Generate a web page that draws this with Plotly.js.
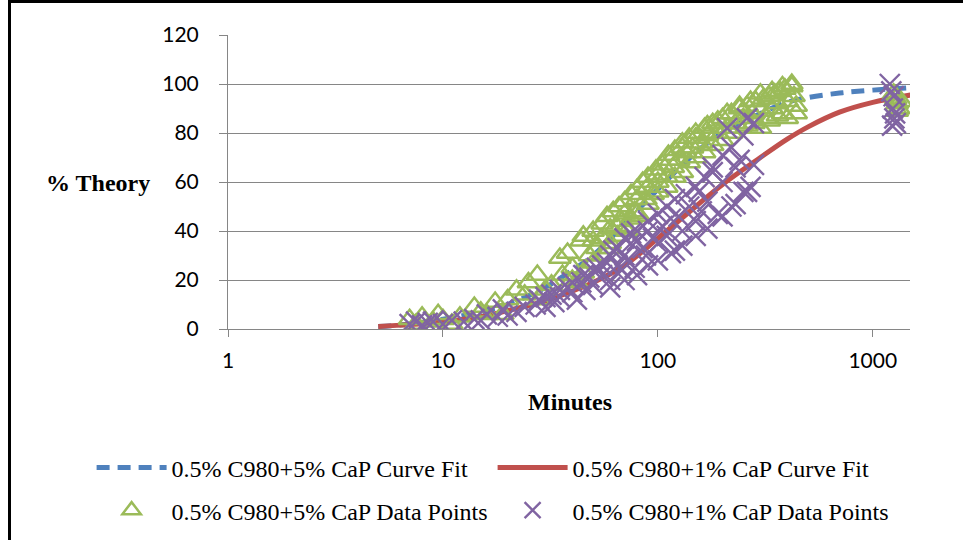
<!DOCTYPE html>
<html>
<head>
<meta charset="utf-8">
<script src="https://cdn.plot.ly/plotly-3.0.1.min.js"></script>
<style>
html,body{margin:0;padding:0;background:#fff;overflow:hidden;}
#chart{width:963px;height:540px;}
#frame{position:absolute;left:8px;top:0px;width:2000px;height:2000px;border-left:3px solid #000;border-top:3px solid #000;pointer-events:none;}
</style>
</head>
<body>
<div id="chart"></div>
<div id="frame"></div>
<script>
// Curve fits
const fitX = [5, 7, 10, 15, 20, 30, 40, 50, 70, 100, 150, 200, 300, 400, 500, 700, 1000, 1500];
const fit5 = [1, 2, 4, 7, 10, 17, 24, 30, 43, 57, 72, 80, 88, 92.5, 94.5, 96.3, 97.5, 98.5];
const fit1 = [1, 1.8, 3, 5, 7.5, 11.5, 15.5, 19, 26, 37, 50, 59, 70, 77.5, 82.5, 88.5, 92.5, 95.5];

// 0.5% C980+5% CaP data points
const pts5X = [7, 7.5, 8, 9, 9.5, 10, 11, 12,
  14, 15, 16, 17.5, 19, 20, 22, 24, 25, 27.5,
  28, 30, 32, 35, 36, 38, 40, 42, 44, 45,
  48, 50, 52, 55, 55, 58, 60, 62, 64, 66,
  68, 70, 72, 75, 78, 80, 82, 85, 88, 90,
  95, 98, 100, 105, 110, 112, 118, 120, 125, 130,
  135, 140, 145, 150, 160, 165, 170, 180, 190, 200,
  210, 220, 230, 240, 250, 260, 275, 285, 300, 310,
  320, 330, 340, 350, 360, 370, 380, 390, 400, 420, 430, 440,
  40, 45, 50, 55, 60, 65, 70, 75, 80, 90, 100, 110, 120, 130,
  140, 150, 165, 180, 200, 220, 240, 260, 280, 300, 330, 360, 400, 440,
  50, 60, 70, 80, 90, 100, 115, 130, 150, 170, 190, 210, 240, 270, 300, 340, 380, 420,
  1250, 1280, 1300, 1320, 1350, 1300];
const pts5Y = [4, 2, 5, 3, 6, 4, 2, 5,
  9, 7, 6, 11, 6, 12, 16, 14, 19, 22,
  12, 16, 18, 29, 22, 31, 25, 19, 36, 38,
  30, 40, 33, 43, 37, 46, 35, 48, 42, 50,
  44, 52, 40, 55, 48, 57, 46, 60, 53, 62,
  55, 65, 60, 67, 62, 71, 66, 73, 69, 76,
  72, 78, 74, 80, 76, 82, 79, 84, 80, 86,
  82, 88, 84, 90, 86, 91, 88, 93, 89, 94,
  86, 95, 90, 96, 92, 97, 88, 98, 93, 99, 95, 91,
  20, 23, 27, 30, 33, 38, 41, 45, 47, 51, 56, 58, 62, 64,
  68, 70, 72, 75, 77, 80, 82, 83, 84, 82, 85, 87, 86, 88,
  36, 41, 47, 53, 58, 63, 69, 74, 78, 83, 85, 88, 91, 93, 96, 97, 99, 100,
  96, 94, 92, 90, 93, 89];

// 0.5% C980+1% CaP data points
const pts1X = [7, 7.5, 8, 8.5, 9, 10, 11, 12.5,
  14, 15, 16, 18, 19, 20, 22, 24,
  27, 28, 30, 32, 33, 35, 38, 40, 42, 44,
  46, 48, 50, 52, 55, 58, 60, 62, 65, 68,
  70, 72, 75, 78, 80, 85, 88, 90, 95, 100,
  105, 110, 115, 120, 125, 130, 140, 150, 155, 160,
  170, 180, 190, 200, 210, 220, 230, 240, 250, 260, 270, 280,
  30, 35, 40, 45, 50, 55, 60, 65, 70, 75, 80, 90, 100, 110, 120,
  135, 150, 165, 180, 200, 220, 250, 280,
  60, 70, 80, 90, 100, 115, 130, 150, 170, 200, 230, 260,
  1200, 1220, 1250, 1240, 1260, 1280, 1230, 1270];
const pts1Y = [2, 3, 1.5, 2.5, 3, 2, 3.5, 3,
  4, 3.5, 6, 5, 8, 5.5, 7, 9,
  10, 12, 9, 14, 11, 13, 17, 15, 12, 19,
  16, 21, 18, 25, 22, 27, 20, 32, 26, 24,
  30, 28, 35, 25, 36, 33, 30, 40, 37, 35,
  42, 38, 45, 32, 46, 40, 50, 44, 56, 48,
  52, 64, 47, 60, 82, 50, 66, 69, 56, 86, 58, 67,
  13, 16, 19, 22, 24, 26, 30, 33, 37, 39, 40, 44, 47, 50, 53,
  55, 58, 62, 66, 71, 74, 79, 84,
  17, 20, 22, 26, 28, 31, 34, 38, 41, 46, 51, 56,
  100, 97, 95, 90, 86, 84, 83, 88];

const xTickVals = [1, 10, 100, 1000];
const xTickText = ['1', '10', '100', '1000'];

const names = ['0.5% C980+5% CaP Curve Fit', '0.5% C980+1% CaP Curve Fit',
  '0.5% C980+5% CaP Data Points', '0.5% C980+1% CaP Data Points'];

const traces = [
  {x: fitX, y: fit5, mode: 'lines', name: names[0], legend: 'legend',
   line: {color: '#4F81BD', width: 5, dash: '13px,8px', shape: 'spline'}},
  {x: fitX, y: fit1, mode: 'lines', name: names[1], legend: 'legend',
   line: {color: '#C0504D', width: 5, shape: 'spline'}},
  {x: pts5X, y: pts5Y, mode: 'markers', name: names[2], legend: 'legend2',
   marker: {symbol: 'triangle-up-open', size: 19, color: '#9BBB59', line: {width: 2.5, color: '#9BBB59'}}},
  {x: pts1X, y: pts1Y, mode: 'markers', name: names[3], legend: 'legend2',
   marker: {symbol: 'x-thin-open', size: 20, color: '#8064A2', line: {width: 2.4, color: '#8064A2'}}}
];

const tickFont = {family: 'Lato, "Open Sans", sans-serif', size: 21, color: '#000'};
const serif = '"Liberation Serif", "Times New Roman", serif';
const legFont = {family: serif, size: 24, color: '#000'};

const layout = {
  width: 963, height: 540,
  margin: {l: 228, r: 53, t: 35, b: 211, autoexpand: false},
  paper_bgcolor: '#fff', plot_bgcolor: '#fff',
  xaxis: {type: 'log', range: [0, Math.log10(1490)], tickvals: xTickVals, ticktext: xTickText,
    showgrid: false, zeroline: false, showline: true, linecolor: '#868686', linewidth: 1,
    ticks: 'outside', ticklen: 7, tickcolor: '#868686', tickfont: tickFont, ticklabelstandoff: 6,
    automargin: false},
  yaxis: {range: [0, 120], dtick: 20, showgrid: true, gridcolor: '#868686', gridwidth: 1,
    zeroline: false, showline: true, linecolor: '#868686', linewidth: 1,
    ticks: 'outside', ticklen: 8, tickcolor: '#868686', tickfont: tickFont, ticklabelstandoff: 16,
    automargin: false},
  showlegend: true,
  legend: {orientation: 'h', x: -0.2, xanchor: 'left', y: -0.396, yanchor: 'top',
    font: legFont, itemwidth: 70, entrywidth: 316, bgcolor: 'rgba(0,0,0,0)'},
  legend2: {orientation: 'h', x: -0.2, xanchor: 'left', y: -0.541, yanchor: 'top',
    font: legFont, itemwidth: 70, entrywidth: 316, bgcolor: 'rgba(0,0,0,0)'},
  annotations: [
    {text: '<b>% Theory</b>', xref: 'paper', yref: 'paper', x: -0.191, y: 0.497,
     xanchor: 'center', yanchor: 'middle', showarrow: false,
     font: {family: serif, size: 24, color: '#000'}},
    {text: '<b>Minutes</b>', xref: 'paper', yref: 'paper', x: 0.501, y: -0.248,
     xanchor: 'center', yanchor: 'middle', showarrow: false,
     font: {family: serif, size: 24, color: '#000'}}
  ]
};

Plotly.newPlot('chart', traces, layout, {displayModeBar: false, staticPlot: true});
</script>
</body>
</html>
